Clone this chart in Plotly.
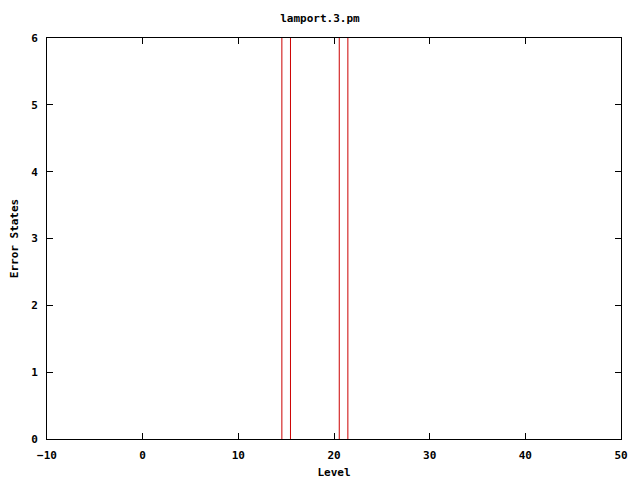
import plotly.graph_objects as go

levels = [15, 21]
error_states = [7, 7]
box_width = 0.9
x_ticks = [-10, 0, 10, 20, 30, 40, 50]
y_ticks = [0, 1, 2, 3, 4, 5, 6]

font = dict(family="DejaVu Sans Mono", size=11, color="black", weight="bold")

fig = go.Figure()
xs, ys = [], []
for lv, v in zip(levels, error_states):
    x0, x1 = lv - box_width / 2, lv + box_width / 2
    xs += [x0, x0, x1, x1, None]
    ys += [0, v, v, 0, None]
fig.add_trace(go.Scatter(
    x=xs, y=ys, mode="lines", line=dict(color="#cc0000", width=1),
    showlegend=False, hoverinfo="skip",
))

fig.update_layout(
    width=640, height=480,
    margin=dict(l=47, r=19, t=38, b=41, autoexpand=False),
    plot_bgcolor="white", paper_bgcolor="white",
    font=font,
    title=dict(text="lamport.3.pm", x=0.5, xanchor="center", y=1 - 18/480, yanchor="middle",
               font=font, automargin=False),
)
fig.update_xaxes(
    range=[-10, 50], tickvals=x_ticks, ticks="inside", ticklen=6, tickcolor="black",
    showline=True, linecolor="black", linewidth=1, mirror="ticks", showgrid=False,
    zeroline=False, automargin=False, ticklabelstandoff=6, layer="above traces",
    title=dict(text="Level", font=font, standoff=7),
)
fig.update_yaxes(
    range=[0, 6], tickvals=y_ticks, ticks="inside", ticklen=6, tickcolor="black",
    showline=True, linecolor="black", linewidth=1, mirror="ticks", showgrid=False,
    zeroline=False, automargin=False, ticklabelstandoff=6, layer="above traces",
    title=dict(text="Error States", font=font, standoff=10),
)

fig.write_html("out.html", config={"displayModeBar": False},
               post_script="document.body.style.margin='0';")
